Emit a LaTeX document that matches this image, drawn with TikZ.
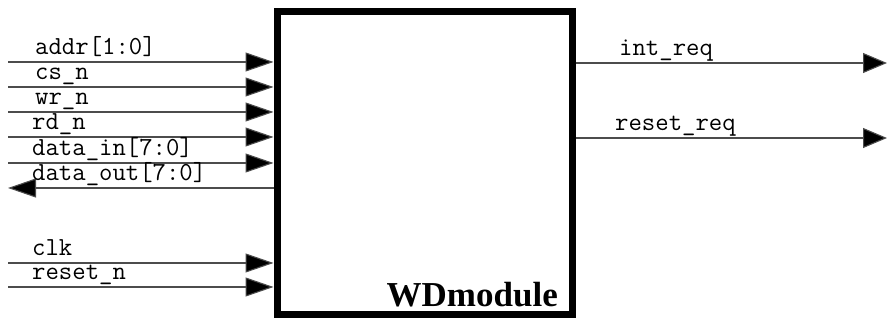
\documentclass[tikz,border=0pt]{standalone}
\usepackage{fontspec}
\setmainfont{Liberation Serif}
\usetikzlibrary{arrows.meta}
\begin{document}
\begin{tikzpicture}[x=1pt,y=-1pt,
  wire/.style={draw=black!70,line width=1.1pt},
  inarr/.style={wire,-{Triangle[length=28pt,width=19pt,fill=black]}},
  outarr/.style={wire,-{Triangle[length=24pt,width=20pt,fill=black]}},
  pin/.style={anchor=base west,inner sep=0pt,font=\fontsize{26}{26}\selectfont\ttfamily},
  modbox/.style={draw,line width=7pt,minimum width=295pt,minimum height=303pt,inner sep=0pt}]
\useasboundingbox (0,0) rectangle (887,320);
\node[modbox] (mod) at (424.5,163.5) {};
\node[anchor=base east,inner sep=0pt,font=\fontsize{35}{35}\selectfont\bfseries] (name) at (558,307) {WDmodule};
% left free ends
\coordinate (a) at (8,62);
\coordinate (b) at (8,87);
\coordinate (c) at (8,112);
\coordinate (d) at (8,137);
\coordinate (e) at (8,163);
\coordinate (f) at (8,188);
\coordinate (g) at (8,263);
\coordinate (h) at (8,287);
\coordinate (o1) at (887,63);
\coordinate (o2) at (887,138);
\draw[inarr] (a) -- (mod.west |- a);
\draw[inarr] (b) -- (mod.west |- b);
\draw[inarr] (c) -- (mod.west |- c);
\draw[inarr] (d) -- (mod.west |- d);
\draw[inarr] (e) -- (mod.west |- e);
\draw[inarr] (mod.west |- f) -- (f);
\draw[inarr] (g) -- (mod.west |- g);
\draw[inarr] (h) -- (mod.west |- h);
\draw[outarr] (mod.east |- o1) -- (o1);
\draw[outarr] (mod.east |- o2) -- (o2);
\node[pin] (la) at (35,55) {addr[1:0]};
\node[pin] (lb) at (35,80) {cs\_n};
\node[pin] (lc) at (35,105) {wr\_n};
\node[pin] (ld) at (32,130) {rd\_n};
\node[pin] (le) at (32,156) {data\_in[7:0]};
\node[pin] (lf) at (32,181) {data\_out[7:0]};
\node[pin] (lg) at (32,256) {clk};
\node[pin] (lh) at (32,280) {reset\_n};
\node[pin] (lo1) at (619,56) {int\_req};
\node[pin] (lo2) at (615,131) {reset\_req};
\end{tikzpicture}
\end{document}
